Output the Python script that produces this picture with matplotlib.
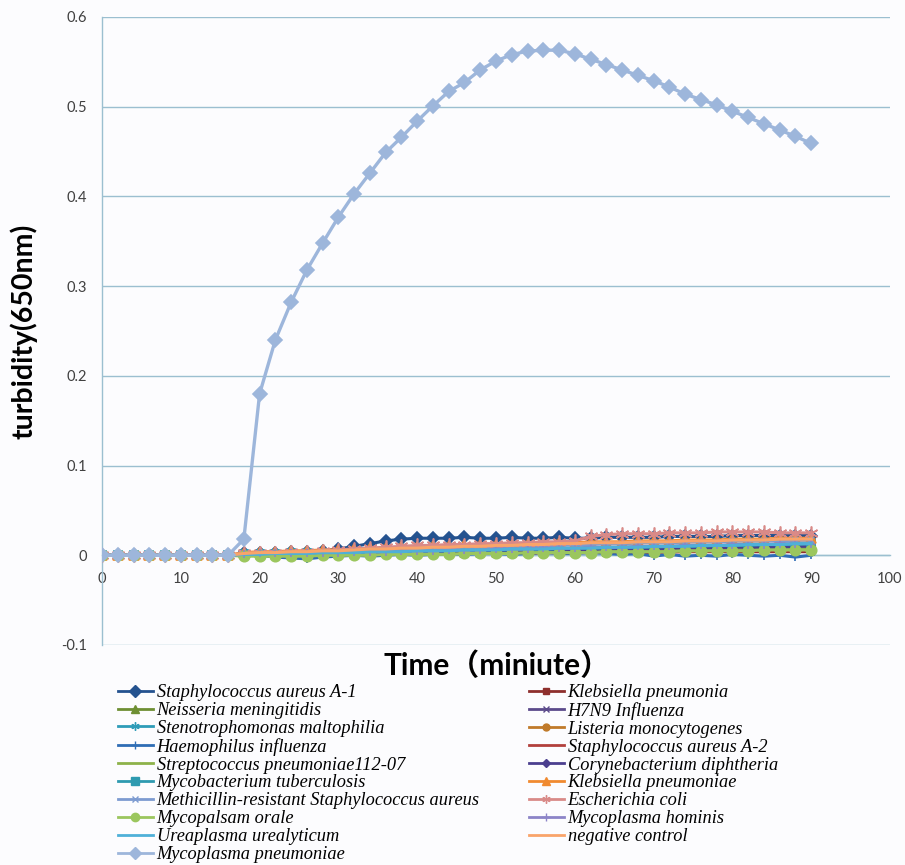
import matplotlib
matplotlib.use("Agg")
import matplotlib.pyplot as plt
from matplotlib.lines import Line2D

time = [0, 2, 4, 6, 8, 10, 12, 14, 16, 18, 20, 22, 24, 26, 28, 30, 32, 34, 36, 38,
        40, 42, 44, 46, 48, 50, 52, 54, 56, 58, 60, 62, 64, 66, 68, 70, 72, 74, 76, 78,
        80, 82, 84, 86, 88, 90]

staph_a1 = [0, 0, 0, 0, 0, 0, 0, 0, 0,
            0.002, 0.003, 0.003, 0.004, 0.004, 0.005, 0.007, 0.010, 0.013, 0.016, 0.018,
            0.019, 0.019, 0.019, 0.020, 0.019, 0.019, 0.020, 0.019, 0.019, 0.020, 0.019,
            0.019, 0.020, 0.020, 0.020, 0.020, 0.021, 0.021, 0.021, 0.021, 0.022, 0.022,
            0.022, 0.022, 0.022, 0.022]
kleb_pneumonia = [0, 0, 0, 0, 0, 0, 0, 0, 0,
                  0.000, 0.000, 0.000, 0.000, 0.001, 0.001, 0.001, 0.001, 0.001, 0.001,
                  0.001, 0.002, 0.002, 0.002, 0.002, 0.002, 0.002, 0.002, 0.002, 0.003,
                  0.003, 0.003, 0.003, 0.003, 0.003, 0.003, 0.003, 0.004, 0.004, 0.004,
                  0.004, 0.004, 0.004, 0.004, 0.004, 0.004, 0.004]
neisseria = [0, 0, 0, 0, 0, 0, 0, 0, 0,
             0.000, 0.000, 0.000, 0.001, 0.001, 0.001, 0.001, 0.001, 0.002, 0.002,
             0.002, 0.002, 0.002, 0.003, 0.003, 0.003, 0.003, 0.003, 0.004, 0.004,
             0.004, 0.004, 0.004, 0.005, 0.005, 0.005, 0.005, 0.005, 0.006, 0.006,
             0.006, 0.006, 0.006, 0.007, 0.007, 0.007, 0.007]
h7n9 = [0, 0, 0, 0, 0, 0, 0, 0, 0,
        0.000, 0.001, 0.001, 0.001, 0.001, 0.002, 0.002, 0.002, 0.002, 0.002,
        0.003, 0.003, 0.003, 0.003, 0.003, 0.004, 0.004, 0.004, 0.004, 0.004,
        0.005, 0.005, 0.005, 0.005, 0.005, 0.005, 0.006, 0.006, 0.006, 0.006,
        0.006, 0.006, 0.007, 0.007, 0.007, 0.007, 0.007]
stenotroph = [0, 0, 0, 0, 0, 0, 0, 0, 0,
              0.000, 0.001, 0.001, 0.001, 0.002, 0.002, 0.002, 0.003, 0.003, 0.003,
              0.004, 0.004, 0.004, 0.005, 0.005, 0.005, 0.006, 0.006, 0.006, 0.007,
              0.007, 0.007, 0.008, 0.008, 0.008, 0.009, 0.009, 0.009, 0.010, 0.010,
              0.010, 0.011, 0.011, 0.011, 0.012, 0.012, 0.012]
listeria = [0, 0, 0, 0, 0, 0, 0, 0, 0,
            0.001, 0.002, 0.002, 0.003, 0.003, 0.004, 0.004, 0.005, 0.006, 0.006,
            0.007, 0.007, 0.008, 0.008, 0.009, 0.009, 0.010, 0.010, 0.011, 0.011,
            0.012, 0.012, 0.013, 0.013, 0.013, 0.014, 0.014, 0.014, 0.015, 0.015,
            0.015, 0.016, 0.016, 0.016, 0.017, 0.017, 0.017]
haemophilus = [0, 0, 0, 0, 0, 0, 0, 0, 0,
               0.001, 0.000, -0.002, -0.003, -0.004, -0.002, -0.001, 0.000, -0.001, 0.000,
               0.001, 0.000, 0.001, 0.002, 0.001, 0.002, 0.002, 0.001, 0.002, 0.003,
               0.002, 0.002, 0.003, 0.002, 0.001, 0.002, -0.001, 0.001, -0.001, 0.000,
               -0.001, 0.001, 0.000, -0.001, 0.000, -0.002, 0.000]
staph_a2 = [0, 0, 0, 0, 0, 0, 0, 0, 0,
            0.000, 0.000, 0.001, 0.001, 0.001, 0.001, 0.001, 0.001, 0.002, 0.002,
            0.002, 0.002, 0.002, 0.002, 0.002, 0.003, 0.003, 0.003, 0.003, 0.003,
            0.003, 0.003, 0.004, 0.004, 0.004, 0.004, 0.004, 0.004, 0.004, 0.005,
            0.005, 0.005, 0.005, 0.005, 0.005, 0.005, 0.006]
strep = [0, 0, 0, 0, 0, 0, 0, 0, 0,
         0.000, 0.000, 0.001, 0.001, 0.001, 0.001, 0.002, 0.002, 0.002, 0.002,
         0.003, 0.003, 0.003, 0.003, 0.004, 0.004, 0.004, 0.004, 0.005, 0.005,
         0.005, 0.005, 0.006, 0.006, 0.006, 0.006, 0.007, 0.007, 0.007, 0.007,
         0.008, 0.008, 0.008, 0.008, 0.009, 0.009, 0.009]
coryne = [0, 0, 0, 0, 0, 0, 0, 0, 0,
          0.001, 0.001, 0.001, 0.002, 0.002, 0.002, 0.002, 0.003, 0.003, 0.003,
          0.003, 0.004, 0.004, 0.004, 0.004, 0.005, 0.005, 0.005, 0.005, 0.006,
          0.006, 0.006, 0.006, 0.007, 0.007, 0.007, 0.007, 0.008, 0.008, 0.008,
          0.008, 0.009, 0.009, 0.009, 0.009, 0.010, 0.010]
mycobact = [0, 0, 0, 0, 0, 0, 0, 0, 0,
            0.001, 0.001, 0.001, 0.002, 0.002, 0.002, 0.003, 0.003, 0.003, 0.004,
            0.004, 0.004, 0.005, 0.005, 0.005, 0.006, 0.006, 0.006, 0.007, 0.007,
            0.007, 0.008, 0.008, 0.008, 0.009, 0.009, 0.009, 0.010, 0.010, 0.010,
            0.011, 0.011, 0.011, 0.012, 0.012, 0.012, 0.013]
kleb_pneumoniae = [0, 0, 0, 0, 0, 0, 0, 0, 0,
                   0.003, 0.004, 0.004, 0.005, 0.005, 0.006, 0.006, 0.007, 0.008, 0.008,
                   0.009, 0.009, 0.010, 0.010, 0.011, 0.011, 0.012, 0.012, 0.013, 0.013,
                   0.014, 0.014, 0.015, 0.015, 0.015, 0.016, 0.016, 0.016, 0.017, 0.017,
                   0.017, 0.018, 0.018, 0.018, 0.019, 0.019, 0.019]
mrsa = [0, 0, 0, 0, 0, 0, 0, 0, 0,
        0.001, 0.002, 0.002, 0.003, 0.003, 0.004, 0.004, 0.005, 0.005, 0.006,
        0.006, 0.007, 0.007, 0.008, 0.008, 0.009, 0.009, 0.010, 0.010, 0.011,
        0.011, 0.012, 0.012, 0.013, 0.013, 0.014, 0.014, 0.014, 0.015, 0.015,
        0.015, 0.016, 0.016, 0.016, 0.016, 0.017, 0.017]
ecoli = [0, 0, 0, 0, 0, 0, 0, 0, 0,
         0.002, 0.003, 0.003, 0.004, 0.004, 0.005, 0.006, 0.007, 0.008, 0.009,
         0.010, 0.011, 0.011, 0.012, 0.012, 0.013, 0.013, 0.014, 0.014, 0.015,
         0.015, 0.016, 0.021, 0.023, 0.024, 0.024, 0.024, 0.025, 0.025, 0.025,
         0.026, 0.026, 0.026, 0.026, 0.025, 0.025, 0.025]
mycopalsam = [0, 0, 0, 0, 0, 0, 0, 0, 0,
              -0.001, -0.001, -0.001, -0.001, -0.001, 0.000, 0.000, 0.000, 0.000, 0.001,
              0.001, 0.001, 0.001, 0.001, 0.002, 0.002, 0.002, 0.002, 0.003, 0.003,
              0.003, 0.003, 0.003, 0.004, 0.004, 0.004, 0.004, 0.004, 0.005, 0.005,
              0.005, 0.005, 0.005, 0.006, 0.006, 0.006, 0.006]
hominis = [0, 0, 0, 0, 0, 0, 0, 0, 0,
           0.001, 0.002, 0.002, 0.002, 0.003, 0.003, 0.003, 0.004, 0.004, 0.004,
           0.005, 0.005, 0.005, 0.006, 0.006, 0.006, 0.007, 0.007, 0.007, 0.008,
           0.008, 0.008, 0.009, 0.009, 0.009, 0.010, 0.010, 0.010, 0.011, 0.011,
           0.011, 0.012, 0.012, 0.012, 0.013, 0.013, 0.013]
ureaplasma = [0, 0, 0, 0, 0, 0, 0, 0, 0,
              0.001, 0.001, 0.002, 0.002, 0.002, 0.003, 0.003, 0.003, 0.004, 0.004,
              0.004, 0.005, 0.005, 0.005, 0.006, 0.006, 0.006, 0.007, 0.007, 0.007,
              0.008, 0.008, 0.008, 0.009, 0.009, 0.009, 0.010, 0.010, 0.010, 0.011,
              0.011, 0.011, 0.012, 0.012, 0.012, 0.013, 0.013]
neg_control = [0, 0, 0, 0, 0, 0, 0, 0, 0,
               0.002, 0.003, 0.003, 0.004, 0.004, 0.005, 0.005, 0.006, 0.007, 0.007,
               0.008, 0.008, 0.009, 0.009, 0.010, 0.010, 0.011, 0.011, 0.012, 0.012,
               0.013, 0.013, 0.014, 0.014, 0.014, 0.015, 0.015, 0.015, 0.016, 0.016,
               0.016, 0.017, 0.017, 0.017, 0.018, 0.018, 0.018]
myco_pneumoniae = [0, 0, 0, 0, 0, 0, 0, 0, 0,
                   0.018, 0.180, 0.240, 0.282, 0.318, 0.348, 0.377, 0.403, 0.426, 0.449,
                   0.466, 0.484, 0.501, 0.517, 0.527, 0.541, 0.551, 0.558, 0.562, 0.563,
                   0.563, 0.559, 0.553, 0.547, 0.541, 0.535, 0.529, 0.522, 0.514, 0.508,
                   0.502, 0.495, 0.488, 0.481, 0.474, 0.467, 0.459]

xticks = [0, 10, 20, 30, 40, 50, 60, 70, 80, 90, 100]
yticks = [-0.1, 0, 0.1, 0.2, 0.3, 0.4, 0.5, 0.6]
ytick_labels = ["-0.1", "0", "0.1", "0.2", "0.3", "0.4", "0.5", "0.6"]

ASTER = (6, 2, 0)
# name, data, color, marker, markersize  (Excel series order)
series = [
    ("Staphylococcus aureus A-1", staph_a1, "#24528F", "D", 6.5),
    ("Klebsiella pneumonia", kleb_pneumonia, "#8E2F2D", "s", 5),
    ("Neisseria meningitidis", neisseria, "#6E8F33", "^", 6),
    ("H7N9 Influenza", h7n9, "#5B4A8B", "x", 5),
    ("Stenotrophomonas maltophilia", stenotroph, "#2E9CB8", ASTER, 7),
    ("Listeria monocytogenes", listeria, "#C07A2A", "o", 5),
    ("Haemophilus influenza", haemophilus, "#2F6DB5", "+", 6),
    ("Staphylococcus aureus A-2", staph_a2, "#B2403C", None, 0),
    ("Streptococcus pneumoniae112-07", strep, "#8DB24A", None, 0),
    ("Corynebacterium diphtheria", coryne, "#4B3F8F", "D", 4.5),
    ("Mycobacterium tuberculosis", mycobact, "#2E9AB0", "s", 5.5),
    ("Klebsiella pneumoniae", kleb_pneumoniae, "#F08A30", "^", 6.5),
    ("Methicillin-resistant Staphylococcus aureus", mrsa, "#7D9BD1", "x", 5),
    ("Escherichia coli", ecoli, "#D98A88", ASTER, 10),
    ("Mycopalsam orale", mycopalsam, "#9BC65E", "o", 7.5),
    ("Mycoplasma hominis", hominis, "#8C84C8", "+", 6),
    ("Ureaplasma urealyticum", ureaplasma, "#4FB0D8", None, 0),
    ("negative control", neg_control, "#F9A46A", None, 0),
    ("Mycoplasma pneumoniae", myco_pneumoniae, "#9DB6DB", "D", 7.5),
]

fig = plt.figure(figsize=(9.05, 8.65), dpi=100)
fig.patch.set_facecolor("#FCFCFE")
ax = fig.add_axes([102 / 905, (865 - 645) / 865, 788 / 905, 628 / 865])
ax.set_facecolor("#FCFCFE")

handles = {}
for name, data, color, marker, ms in series:
    lw = 2.4 if name == "Mycoplasma pneumoniae" else 2.2
    kw = dict(color=color, lw=lw, label=name, zorder=3)
    if marker is not None:
        kw.update(marker=marker, markersize=ms, markerfacecolor=color,
                  markeredgecolor=color, markeredgewidth=1.2)
    line, = ax.plot(time, data, **kw)
    handles[name] = line

ax.set_xlim(0, 100)
ax.set_ylim(-0.1, 0.6)
ax.set_xticks(xticks)
ax.set_yticks(yticks)
ax.set_yticklabels(ytick_labels)

axis_col = "#9BBFD0"
ax.yaxis.grid(True, color=axis_col, lw=1.0, zorder=0)
ax.set_axisbelow(True)
for s in ["top", "right"]:
    ax.spines[s].set_visible(False)
ax.spines["left"].set_color(axis_col)
ax.spines["bottom"].set_color(axis_col)
ax.spines["bottom"].set_position(("data", 0))
ax.spines["left"].set_linewidth(1.0)
ax.spines["bottom"].set_linewidth(1.0)
ax.tick_params(axis="both", length=0, labelsize=10.5, colors="#404040")
ax.tick_params(axis="x", pad=12)
ax.tick_params(axis="y", pad=11)
for lab in ax.get_xticklabels() + ax.get_yticklabels():
    lab.set_family("Lato")

ax.set_ylabel("turbidity(650nm)", fontsize=20.5, fontweight="bold",
              family=["Lato", "DejaVu Sans"], color="black")
ax.yaxis.set_label_coords(-0.0815, 0.5)
fig.text(497 / 905, 1 - 666 / 865, "Time（miniute）", fontsize=21.5, fontweight="bold",
         family=["Lato", "Noto Sans CJK SC"], ha="center", va="center")

left_names = ["Staphylococcus aureus A-1", "Neisseria meningitidis",
              "Stenotrophomonas maltophilia", "Haemophilus influenza",
              "Streptococcus pneumoniae112-07", "Mycobacterium tuberculosis",
              "Methicillin-resistant Staphylococcus aureus", "Mycopalsam orale",
              "Ureaplasma urealyticum", "Mycoplasma pneumoniae"]
right_names = ["Klebsiella pneumonia", "H7N9 Influenza", "Listeria monocytogenes",
               "Staphylococcus aureus A-2", "Corynebacterium diphtheria",
               "Klebsiella pneumoniae", "Escherichia coli", "Mycoplasma hominis",
               "negative control"]
order = left_names + right_names
leg_handles = []
for n in order:
    h = handles[n]
    leg_handles.append(Line2D([], [], color=h.get_color(), lw=2.0, marker=h.get_marker(),
                              markersize=min(h.get_markersize(), 6),
                              markerfacecolor=h.get_color(), markeredgecolor=h.get_color()))
leg = fig.legend(leg_handles, order, loc="upper left",
                 bbox_to_anchor=(118 / 905, 1 - 684 / 865), ncol=2, frameon=False,
                 borderpad=0, borderaxespad=0, handlelength=1.9, handletextpad=0.2,
                 columnspacing=2.7, labelspacing=0.05,
                 prop=dict(family="Liberation Serif", style="italic", size=13.2))

fig.savefig("out.png", dpi=100, facecolor=fig.get_facecolor())
